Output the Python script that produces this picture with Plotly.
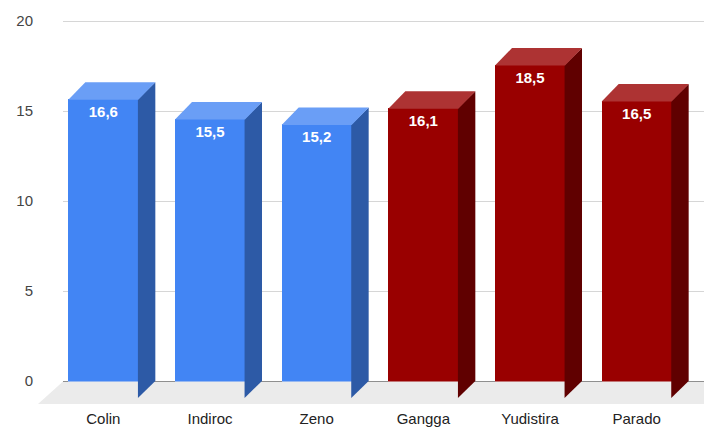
import plotly.graph_objects as go

# Scores per participant
names = ["Colin", "Indiroc", "Zeno", "Gangga", "Yudistira", "Parado"]
scores = [16.6, 15.5, 15.2, 16.1, 18.5, 16.5]
groups = ["blue", "blue", "blue", "red", "red", "red"]
y_ticks = [0, 5, 10, 15, 20]

# Face colours per group: front, top, side
palette = {
    "blue": ("#4285F4", "#6A9EF6", "#2D5AA6"),
    "red": ("#990000", "#AD3333", "#600000"),
}

W, H = 704, 428
CAT_PX = 640 / 6          # pixel width of one category band
UNIT_PX = 18              # pixels per score unit
DEPTH_PX = 17             # 3D extrusion depth (pixels)
BAR_W = 70 / CAT_PX       # bar width in category units
DX = DEPTH_PX / CAT_PX
DY = DEPTH_PX / UNIT_PX

# front-plane axes: x = category index, y = score (zero at the front floor line)
x_lo = -0.5 - 50 / CAT_PX
x_hi = -0.5 + (W - 50) / CAT_PX
front_bottom_px = 406
y_lo = (398 - front_bottom_px) / UNIT_PX
y_hi = 398 / UNIT_PX

xs = list(range(len(names)))
fig = go.Figure()

# back wall subplot needs a trace so its gridlines and tick labels get drawn
fig.add_trace(go.Scatter(
    x=[0.5], y=[10], mode="markers", marker=dict(opacity=0),
    xaxis="x", yaxis="y", hoverinfo="skip", showlegend=False,
))

# floor slab under the bars
floor_front = -6 / UNIT_PX
floor_back = DY - 0.03
fx_left_front = -0.5 + (38 - 50) / CAT_PX
fx_left_back = fx_left_front + 25 / CAT_PX
fig.add_trace(go.Scatter(
    x=[fx_left_front, x_hi + 1, x_hi + 1, fx_left_back, fx_left_front],
    y=[floor_front, floor_front, floor_back, floor_back, floor_front],
    mode="lines", fill="toself", fillcolor="#EBEBEB", line=dict(width=0),
    xaxis="x2", yaxis="y2", hoverinfo="skip", showlegend=False,
))

# front faces
fig.add_trace(go.Bar(
    x=xs, y=scores, width=BAR_W,
    marker=dict(color=[palette[g][0] for g in groups], line=dict(width=0)),
    xaxis="x2", yaxis="y2", hoverinfo="skip", showlegend=False,
))

# side and top faces
eps_x, eps_y = 0.004, 0.03
for x, v, g in zip(xs, scores, groups):
    _, top_c, side_c = palette[g]
    r = x + BAR_W / 2
    l = x - BAR_W / 2
    fig.add_trace(go.Scatter(
        x=[r - eps_x, r - eps_x, r + DX, r + DX, r - eps_x],
        y=[0, v, v + DY, DY, 0],
        mode="lines", fill="toself", fillcolor=side_c, line=dict(width=0),
        xaxis="x2", yaxis="y2", hoverinfo="skip", showlegend=False,
    ))
    fig.add_trace(go.Scatter(
        x=[l, r, r + DX, l + DX, l],
        y=[v - eps_y, v - eps_y, v + DY, v + DY, v - eps_y],
        mode="lines", fill="toself", fillcolor=top_c, line=dict(width=0),
        xaxis="x2", yaxis="y2", hoverinfo="skip", showlegend=False,
    ))

# value labels just inside the top of each front face
fig.add_trace(go.Scatter(
    x=xs, y=[v - 14 / UNIT_PX for v in scores],
    customdata=scores, texttemplate="%{customdata:.1f}",
    mode="text", textposition="middle center",
    textfont=dict(family="Liberation Sans, Arial", size=15, color="white", weight="bold"),
    xaxis="x2", yaxis="y2", hoverinfo="skip", showlegend=False,
))

# back wall: hidden x axis, gridlines + y tick labels
back_lo, back_hi = -0.5, 20.5
px0 = 381 + 0.5 * UNIT_PX
px1 = 21 - 0.5 * UNIT_PX
fig.update_layout(
    width=W, height=H,
    margin=dict(l=0, r=0, t=0, b=0),
    paper_bgcolor="white", plot_bgcolor="rgba(0,0,0,0)",
    separators=",.",
    font=dict(family="Liberation Sans, Arial", size=15, color="#222222"),
    xaxis=dict(domain=[63 / W, 1], range=[0, 1], showgrid=False, zeroline=False,
               showline=False, showticklabels=False, ticks="", fixedrange=True),
    yaxis=dict(
        domain=[(H - px0) / H, (H - px1) / H], range=[back_lo, back_hi],
        tickvals=y_ticks, ticks="", ticklabelstandoff=29,
        showgrid=True, gridcolor="#D6D6D6", gridwidth=1,
        zeroline=True, zerolinecolor="#333333", zerolinewidth=1,
        showline=False, tickfont=dict(color="#444444", size=15),
    ),
    xaxis2=dict(
        domain=[0, 1], range=[x_lo, x_hi], anchor="y2",
        tickvals=xs, ticktext=names, ticks="", ticklabelstandoff=2,
        showgrid=False, zeroline=False, showline=False,
        tickfont=dict(color="#222222", size=15),
    ),
    yaxis2=dict(
        domain=[(H - front_bottom_px) / H, 1], range=[y_lo, y_hi], anchor="x2",
        visible=False,
    ),
    bargap=0,
)

fig.write_html("out.html")
